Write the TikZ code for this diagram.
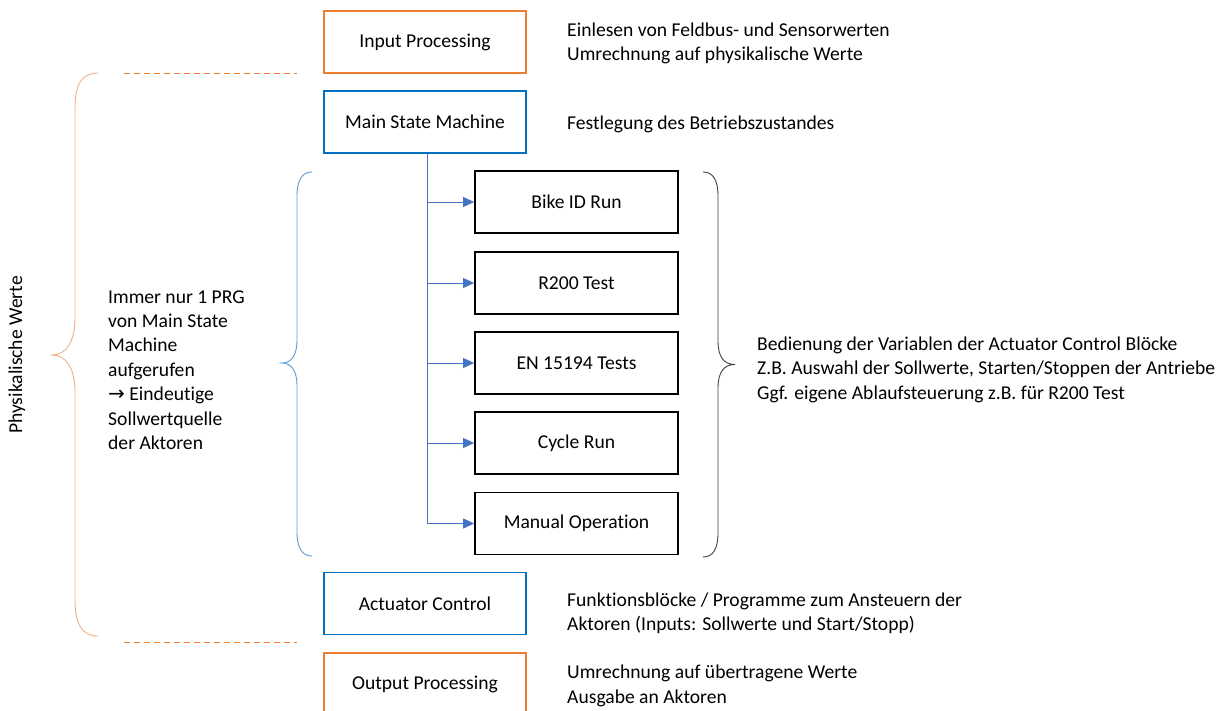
\documentclass[tikz,border=0pt]{standalone}
\usepackage{fontspec}
\setmainfont{Carlito}[Ligatures=NoCommon]
\newfontfamily\symfont{DejaVu Sans}
\usetikzlibrary{arrows.meta}
\definecolor{orangeA}{HTML}{ED7D31}
\definecolor{orangeL}{HTML}{F4B183}
\definecolor{blueA}{HTML}{0070C0}
\definecolor{blueL}{HTML}{4472C4}
\definecolor{blueB}{HTML}{5B9BD5}
\definecolor{greyB}{HTML}{404040}
\tikzset{
  txt/.style={font=\fontsize{19.6}{24.4}\selectfont, inner sep=0pt},
  block/.style={txt, draw, line width=1.8pt, minimum width=202pt, minimum height=62pt, align=center},
  outerblock/.style={block, draw=orangeA},
  mainblock/.style={block, draw=blueA},
  subblock/.style={block, draw=black, minimum width=203pt},
  note/.style={txt, anchor=west, align=left},
  feed/.style={draw=blueL, line width=0.9pt},
  feedarrow/.style={feed, -{Triangle[length=11pt,width=10pt]}},
  brace/.style={line width=0.9pt}
}
\begin{document}
\begin{tikzpicture}[x=1pt,y=-1pt]
\useasboundingbox (0,0) rectangle (1224,711);
\clip (0,0) rectangle (1224,711);
\fill[white] (0,0) rectangle (1224,711);

% program blocks
\node[outerblock] (inproc)  at (425,42)  {Input Processing};
\node[mainblock]  (msm)     at (425,122) {Main State Machine};
\node[subblock]   (bike)    at (576.5,202) {Bike ID Run};
\node[subblock]   (r200)    at (576.5,283) {R200 Test};
\node[subblock]   (en)      at (576.5,363) {EN 15194 Tests};
\node[subblock]   (cycle)   at (576.5,443) {Cycle Run};
\node[subblock]   (manual)  at (576.5,523.5) {Manual Operation};
\node[mainblock]  (act)     at (425,603.5) {Actuator Control};
\node[outerblock] (outproc) at (425,684) {Output Processing};

% calls from the main state machine
\coordinate (spine) at (427,0);
\draw[feed] (spine |- msm.south) -- (spine |- manual.west);
\draw[feedarrow] (spine |- bike.west) -- (bike.west);
\draw[feedarrow] (spine |- r200.west) -- (r200.west);
\draw[feedarrow] (spine |- en.west) -- (en.west);
\draw[feedarrow] (spine |- cycle.west) -- (cycle.west);
\draw[feedarrow] (spine |- manual.west) -- (manual.west);

% descriptions
\node[note] (d1) at (567,43.5) {Einlesen von Feldbus- und Sensorwerten\\Umrechnung auf physikalische Werte};
\node[note] (d2) at (567,124) {Festlegung des Betriebszustandes};
\node[note] (d3) at (757,369.5) {Bedienung der Variablen der Actuator Control Blöcke\\Z.B. Auswahl der Sollwerte, Starten/Stoppen der Antriebe\\Ggf. eigene Ablaufsteuerung z.B. für R200 Test};
\node[note] (d4) at (567,613) {Funktionsblöcke / Programme zum Ansteuern der\\Aktoren (Inputs: Sollwerte und Start/Stopp)};
\node[note] (d5) at (567,686) {Umrechnung auf übertragene Werte\\Ausgabe an Aktoren};
\node[note] (d6) at (108,370) {Immer nur 1 PRG\\von Main State\\Machine\\aufgerufen\\{\symfont\fontsize{20}{24.4}\selectfont →} Eindeutige\\Sollwertquelle\\der Aktoren};
\node[txt, rotate=90] (phys) at (17,355) {Physikalische Werte};

% range of physical values
\draw[orangeL, brace] (98,73) .. controls (82,73) and (75,84) .. (75,108) -- (75,318)
  .. controls (75,342) and (66,355) .. (52,355)
  .. controls (66,355) and (75,368) .. (75,392) -- (75,600)
  .. controls (75,624) and (82,636) .. (98,636);
\draw[orangeA, line width=0.9pt, dash pattern=on 6pt off 4pt] (124,73) -- (297,73);
\draw[orangeA, line width=0.9pt, dash pattern=on 6pt off 4pt] (124,642) -- (297,642);

% braces around the called programs
\draw[blueB, brace] (312,172) .. controls (302,172) and (297,180) .. (297,196) -- (297,340)
  .. controls (297,356) and (291,363) .. (282,363)
  .. controls (291,363) and (297,370) .. (297,386) -- (297,532)
  .. controls (297,548) and (302,556) .. (312,556);
\draw[greyB, brace] (703,172) .. controls (713,172) and (718,180) .. (718,196) -- (718,341)
  .. controls (718,357) and (724,364.5) .. (735,364.5)
  .. controls (724,364.5) and (718,372) .. (718,388) -- (718,533)
  .. controls (718,549) and (713,557) .. (703,557);
\end{tikzpicture}
\end{document}
